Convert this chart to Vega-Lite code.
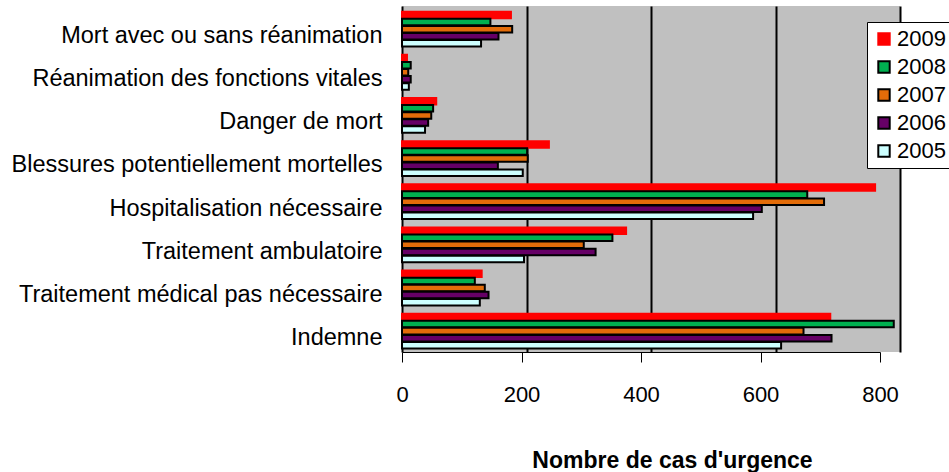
{
  "$schema": "https://vega.github.io/schema/vega-lite/v6.json",
  "autosize": {"type": "none"},
  "padding": {"left": 402, "top": 6, "right": 49, "bottom": 120},
  "width": 498,
  "height": 346,
  "background": "white",
  "config": {
    "font": "Liberation Sans",
    "view": {"fill": "#C0C0C0", "stroke": null}
  },
  "data": {
    "values": [
      {"cat": "Mort avec ou sans réanimation", "year": "2009", "n": 175},
      {"cat": "Mort avec ou sans réanimation", "year": "2008", "n": 142},
      {"cat": "Mort avec ou sans réanimation", "year": "2007", "n": 177},
      {"cat": "Mort avec ou sans réanimation", "year": "2006", "n": 155},
      {"cat": "Mort avec ou sans réanimation", "year": "2005", "n": 127},
      {"cat": "Réanimation des fonctions vitales", "year": "2009", "n": 8},
      {"cat": "Réanimation des fonctions vitales", "year": "2008", "n": 14},
      {"cat": "Réanimation des fonctions vitales", "year": "2007", "n": 10},
      {"cat": "Réanimation des fonctions vitales", "year": "2006", "n": 14},
      {"cat": "Réanimation des fonctions vitales", "year": "2005", "n": 11},
      {"cat": "Danger de mort", "year": "2009", "n": 55},
      {"cat": "Danger de mort", "year": "2008", "n": 50},
      {"cat": "Danger de mort", "year": "2007", "n": 47},
      {"cat": "Danger de mort", "year": "2006", "n": 42},
      {"cat": "Danger de mort", "year": "2005", "n": 37},
      {"cat": "Blessures potentiellement mortelles", "year": "2009", "n": 236},
      {"cat": "Blessures potentiellement mortelles", "year": "2008", "n": 201},
      {"cat": "Blessures potentiellement mortelles", "year": "2007", "n": 202},
      {"cat": "Blessures potentiellement mortelles", "year": "2006", "n": 154},
      {"cat": "Blessures potentiellement mortelles", "year": "2005", "n": 194},
      {"cat": "Hospitalisation nécessaire", "year": "2009", "n": 760},
      {"cat": "Hospitalisation nécessaire", "year": "2008", "n": 651},
      {"cat": "Hospitalisation nécessaire", "year": "2007", "n": 678},
      {"cat": "Hospitalisation nécessaire", "year": "2006", "n": 578},
      {"cat": "Hospitalisation nécessaire", "year": "2005", "n": 564},
      {"cat": "Traitement ambulatoire", "year": "2009", "n": 360},
      {"cat": "Traitement ambulatoire", "year": "2008", "n": 338},
      {"cat": "Traitement ambulatoire", "year": "2007", "n": 292},
      {"cat": "Traitement ambulatoire", "year": "2006", "n": 311},
      {"cat": "Traitement ambulatoire", "year": "2005", "n": 196},
      {"cat": "Traitement médical pas nécessaire", "year": "2009", "n": 128},
      {"cat": "Traitement médical pas nécessaire", "year": "2008", "n": 117},
      {"cat": "Traitement médical pas nécessaire", "year": "2007", "n": 133},
      {"cat": "Traitement médical pas nécessaire", "year": "2006", "n": 139},
      {"cat": "Traitement médical pas nécessaire", "year": "2005", "n": 125},
      {"cat": "Indemne", "year": "2009", "n": 688},
      {"cat": "Indemne", "year": "2008", "n": 790},
      {"cat": "Indemne", "year": "2007", "n": 645},
      {"cat": "Indemne", "year": "2006", "n": 690},
      {"cat": "Indemne", "year": "2005", "n": 609}
    ]
  },
  "resolve": {"scale": {"x": "independent"}, "axis": {"x": "independent"}},
  "layer": [
    {
      "mark": {"type": "bar", "strokeWidth": 2, "height": {"band": 0.92}},
      "encoding": {
        "y": {
          "field": "cat",
          "type": "nominal",
          "sort": null,
          "scale": {"paddingInner": 0.18, "paddingOuter": 0.1},
          "axis": {
            "title": null,
            "labelFontSize": 23.5,
            "labelColor": "black",
            "labelPadding": 20,
            "labelOffset": 8,
            "ticks": false,
            "domain": true,
            "domainColor": "black",
            "domainWidth": 2,
            "labelLimit": 420
          }
        },
        "yOffset": {
          "field": "year",
          "type": "nominal",
          "sort": ["2009", "2008", "2007", "2006", "2005"]
        },
        "x": {
          "field": "n",
          "type": "quantitative",
          "scale": {"domain": [0, 800], "nice": false},
          "axis": {
            "orient": "top",
            "values": [200, 400, 600, 800],
            "grid": true,
            "gridColor": "black",
            "gridWidth": 2,
            "gridOpacity": 1,
            "labels": false,
            "ticks": false,
            "domain": false,
            "title": null
          }
        },
        "color": {
          "field": "year",
          "type": "nominal",
          "scale": {
            "domain": ["2009", "2008", "2007", "2006", "2005"],
            "range": ["#FF0000", "#00B050", "#E36C09", "#660066", "#CCFFFF"]
          },
          "legend": {
            "title": null,
            "orient": "none",
            "legendX": 465,
            "legendY": 16,
            "fillColor": "white",
            "strokeColor": "black",
            "padding": 6,
            "labelFontSize": 22,
            "labelColor": "black",
            "symbolType": "square",
            "symbolSize": 130,
            "symbolStrokeWidth": 2,
            "rowPadding": 6,
            "labelOffset": 2
          }
        },
        "stroke": {
          "field": "year",
          "type": "nominal",
          "scale": {
            "domain": ["2009", "2008", "2007", "2006", "2005"],
            "range": ["#FF0000", "black", "black", "black", "black"]
          },
          "legend": {
            "title": null,
            "orient": "none",
            "legendX": 465,
            "legendY": 16
          }
        }
      }
    },
    {
      "mark": {"type": "tick", "opacity": 0},
      "encoding": {
        "x": {
          "field": "n",
          "type": "quantitative",
          "scale": {"domain": [0, 800], "nice": false, "range": [0, 478]},
          "axis": {
            "orient": "bottom",
            "values": [0, 200, 400, 600, 800],
            "grid": false,
            "labelFlush": false,
            "domainColor": "black",
            "domainWidth": 1,
            "tickColor": "black",
            "tickSize": 10,
            "labelFontSize": 22,
            "labelColor": "black",
            "labelPadding": 22,
            "title": "Nombre de cas d'urgence",
            "titleFontSize": 23,
            "titleFontWeight": "bold",
            "titleColor": "black",
            "titleX": 270,
            "titleY": 108,
            "titleAlign": "center",
            "titleBaseline": "middle"
          }
        }
      }
    }
  ]
}
